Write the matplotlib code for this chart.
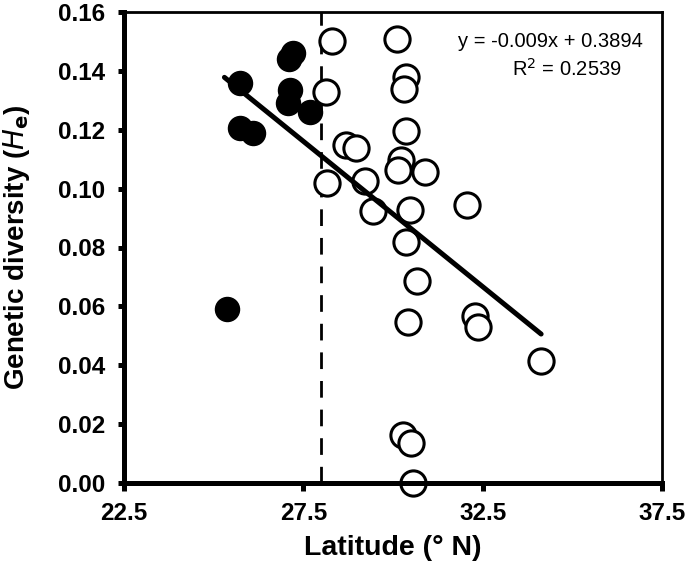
import matplotlib
matplotlib.use("Agg")
import matplotlib.pyplot as plt
from matplotlib import font_manager

names = {f.name for f in font_manager.fontManager.ttflist}
cond = "Liberation Sans Narrow" if "Liberation Sans Narrow" in names else "Liberation Sans"

# Filled points (southern group)
south_lat = [27.1, 27.2, 25.73, 27.12, 27.07, 27.68, 25.73, 26.09, 25.36]
south_he = [0.144, 0.146, 0.136, 0.1334, 0.129, 0.126, 0.1205, 0.119, 0.0591]

# Open points (northern group)
north_lat = [28.31, 30.10, 30.35, 30.30, 28.13, 30.37, 28.68, 28.98, 30.21, 30.14,
             30.88, 28.16, 29.21, 32.05, 29.44, 30.47, 30.35, 30.67, 30.42, 32.28,
             32.37, 34.13, 30.28, 30.51, 30.56]
north_he = [0.1502, 0.1507, 0.1378, 0.1337, 0.1329, 0.1196, 0.1147, 0.1139, 0.1098, 0.1062,
            0.1056, 0.1019, 0.1025, 0.0946, 0.0923, 0.0928, 0.0818, 0.0685, 0.0546, 0.0566,
            0.0529, 0.0413, 0.0163, 0.0135, 0.0]

# Regression line endpoints as drawn
fit_lat = [25.3, 34.13]
fit_he = [0.1378, 0.0506]

boundary_lat = 28.0
xticks = [22.5, 27.5, 32.5, 37.5]
yticks = [0.00, 0.02, 0.04, 0.06, 0.08, 0.10, 0.12, 0.14, 0.16]

fig = plt.figure(figsize=(6.85, 5.75), dpi=100)
ax = fig.add_axes([124/685, 1-483/575, (662-124)/685, (483-12)/575])

ax.plot([boundary_lat, boundary_lat], [0, 0.16], color="black", lw=2.0,
        dashes=(6, 4.3), zorder=1)
ax.scatter(north_lat, north_he, s=330, facecolors="white", edgecolors="black",
           linewidths=2.2, zorder=2, clip_on=False)
ax.scatter(south_lat, south_he, s=300, color="black", zorder=3, clip_on=False)
ax.plot(fit_lat, fit_he, color="black", lw=3.6, solid_capstyle="round", zorder=4)

ax.set_xlim(22.5, 37.5)
ax.set_ylim(0, 0.16)
ax.set_xticks(xticks)
ax.set_xticklabels([f"{v:.1f}" for v in xticks])
ax.set_yticks(yticks)
ax.set_yticklabels([f"{v:.2f}" for v in yticks])

for side in ["left", "bottom"]:
    ax.spines[side].set_linewidth(3.6)
for side in ["top", "right"]:
    ax.spines[side].set_linewidth(2.0)

ax.tick_params(axis="x", direction="out", length=6, width=3.6, pad=8, labelsize=17.5)
ax.tick_params(axis="y", direction="out", length=4.5, width=3.6, pad=9, labelsize=17.5)
for lab in ax.get_xticklabels() + ax.get_yticklabels():
    lab.set_fontfamily(cond)
    lab.set_fontweight("bold")

ax.set_xlabel("Latitude (° N)", fontsize=20.5, fontweight="bold", family=cond)
ax.xaxis.set_label_coords(0.5, -0.138)
ax.xaxis.label.set_va("center")
ax.set_ylabel(r"Genetic diversity ($\bf{\it{H}}_{\bf{e}}$)", fontsize=20,
              fontweight="bold", family="Liberation Sans")
ax.yaxis.set_label_coords(-0.2, 0.5)
ax.yaxis.label.set_va("center")

ax.text(0.965, 0.938, "y = -0.009x + 0.3894", transform=ax.transAxes, ha="right",
        va="center", fontsize=14.5, family="Liberation Sans")
ax.text(0.926, 0.879, r"R$^2$ = 0.2539", transform=ax.transAxes, ha="right",
        va="center", fontsize=14.5, family="Liberation Sans")

fig.savefig("out.png", dpi=100)
